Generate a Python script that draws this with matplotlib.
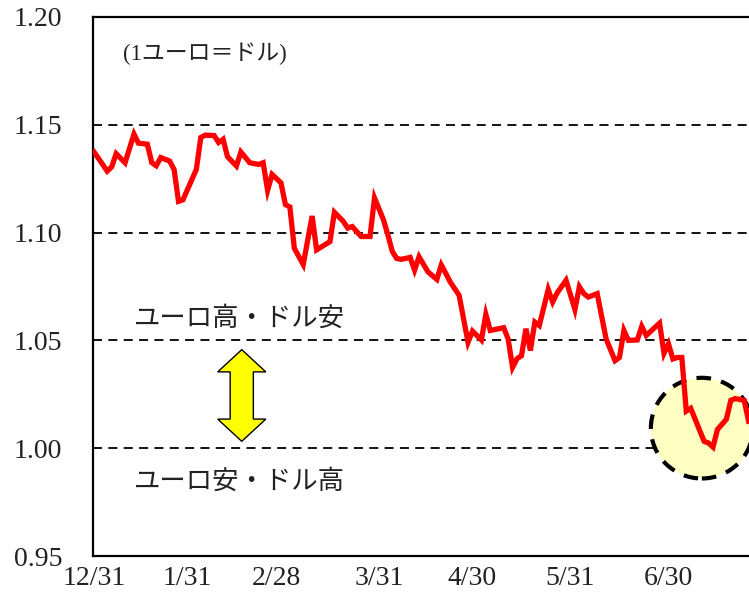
import numpy as np
import matplotlib
matplotlib.use('Agg')
import matplotlib.pyplot as plt
from matplotlib.patches import Ellipse, Polygon

# EUR/USD daily closes (business-day series, 2022)
dates = ['2021-12-31', '2022-01-05', '2022-01-06', '2022-01-07', '2022-01-11',
         '2022-01-13', '2022-01-14', '2022-01-18', '2022-01-19', '2022-01-20',
         '2022-01-21', '2022-01-25', '2022-01-26', '2022-01-27', '2022-01-28',
         '2022-02-02', '2022-02-03', '2022-02-04', '2022-02-08', '2022-02-09',
         '2022-02-10', '2022-02-11', '2022-02-15', '2022-02-16', '2022-02-18',
         '2022-02-22', '2022-02-23', '2022-02-24', '2022-02-25', '2022-03-01',
         '2022-03-02', '2022-03-03', '2022-03-04', '2022-03-08', '2022-03-10',
         '2022-03-11', '2022-03-16', '2022-03-17', '2022-03-21', '2022-03-22',
         '2022-03-23', '2022-03-25', '2022-03-29', '2022-03-30', '2022-04-01',
         '2022-04-04', '2022-04-05', '2022-04-06', '2022-04-07', '2022-04-11',
         '2022-04-12', '2022-04-13', '2022-04-15', '2022-04-19', '2022-04-20',
         '2022-04-21', '2022-04-22', '2022-04-26', '2022-04-28', '2022-04-29',
         '2022-05-03', '2022-05-04', '2022-05-05', '2022-05-10', '2022-05-11',
         '2022-05-12', '2022-05-13', '2022-05-16', '2022-05-17', '2022-05-18',
         '2022-05-19', '2022-05-20', '2022-05-24', '2022-05-25', '2022-05-26',
         '2022-05-30', '2022-06-01', '2022-06-02', '2022-06-03', '2022-06-06',
         '2022-06-08', '2022-06-10', '2022-06-14', '2022-06-15', '2022-06-16',
         '2022-06-17', '2022-06-21', '2022-06-22', '2022-06-23', '2022-06-28',
         '2022-06-29', '2022-06-30', '2022-07-01', '2022-07-04', '2022-07-05',
         '2022-07-06', '2022-07-07', '2022-07-12', '2022-07-13', '2022-07-14',
         '2022-07-15', '2022-07-19', '2022-07-20', '2022-07-21', '2022-07-25',
         '2022-07-26']
rates = [1.1375, 1.1285, 1.1305, 1.1366, 1.1324,
         1.1457, 1.1415, 1.1410, 1.1324, 1.1310,
         1.1348, 1.1332, 1.1293, 1.1145, 1.1152,
         1.1293, 1.1441, 1.1452, 1.1450, 1.1418,
         1.1433, 1.1352, 1.1309, 1.1374, 1.1324,
         1.1316, 1.1324, 1.1196, 1.1270, 1.1231,
         1.1130, 1.1119, 1.0927, 1.0852, 1.1077,
         1.0920, 1.0958, 1.1094, 1.1052, 1.1021,
         1.1028, 1.0982, 1.0982, 1.1161, 1.1060,
         1.0990, 1.0912, 1.0880, 1.0876, 1.0885,
         1.0826, 1.0888, 1.0818, 1.0783, 1.0850,
         1.0811, 1.0771, 1.0709, 1.0491, 1.0543,
         1.0502, 1.0621, 1.0546, 1.0559, 1.0507,
         1.0375, 1.0415, 1.0429, 1.0554, 1.0453,
         1.0585, 1.0569, 1.0736, 1.0678, 1.0720,
         1.0779, 1.0643, 1.0749, 1.0717, 1.0701,
         1.0717, 1.0507, 1.0406, 1.0421, 1.0546,
         1.0500, 1.0502, 1.0565, 1.0523, 1.0580,
         1.0440, 1.0484, 1.0414, 1.0421, 1.0421,
         1.0172, 1.0185, 1.0032, 1.0024, 1.0005,
         1.0087, 1.0134, 1.0222, 1.0230, 1.0222,
         1.0125]

tick_dates = ['2021-12-31', '2022-01-31', '2022-02-28', '2022-03-31',
              '2022-04-30', '2022-05-31', '2022-06-30']
tick_labels = ['12/31', '1/31', '2/28', '3/31', '4/30', '5/31', '6/30']
y_ticks = [0.95, 1.00, 1.05, 1.10, 1.15, 1.20]
ref_levels = [1.00, 1.05, 1.10, 1.15]

start = '2021-12-31'


def bday_pos(d):
    d = np.busday_offset(d, 0, roll='backward')
    return np.busday_count(start, d)


x = np.array([bday_pos(d) for d in dates])
y = np.array(rates)

jp = ['Noto Sans CJK JP']
num_font = 'Liberation Serif'

fig = plt.figure(figsize=(7.49, 5.94), dpi=100)
ax = fig.add_axes([93 / 749, 38 / 594, (762 - 93) / 749, (556 - 17) / 594])

# highlighted zone (parity area)
circ = Ellipse((136.5, 1.0093), 22.9, 0.0467, facecolor='#FFFFC4',
               edgecolor='black', lw=3, linestyle=(0, (3.5, 2.5)), zorder=2)
ax.add_patch(circ)

for lv in ref_levels:
    ax.axhline(lv, color='black', lw=1.3, linestyle=(0, (5, 3.5)), zorder=1)

ax.plot(x, y, color='#FF0000', lw=3.8, zorder=3, solid_joinstyle='miter')

# double arrow between the two labels
cx, top, bot = 33.2, 1.0457, 1.0032
hw, sw, hl = 5.4, 2.6, 0.0103
arrow = Polygon([(cx, top), (cx + hw, top - hl), (cx + sw, top - hl),
                 (cx + sw, bot + hl), (cx + hw, bot + hl), (cx, bot),
                 (cx - hw, bot + hl), (cx - sw, bot + hl), (cx - sw, top - hl),
                 (cx - hw, top - hl)], closed=True, facecolor='#FFFF00',
                edgecolor='black', lw=1.0, zorder=4)
ax.add_patch(arrow)

ax.text(6.5, 1.183, '(1ユーロ＝ドル)', family=[num_font] + jp, fontsize=16.5,
        ha='left', va='center', color='#222222')
ax.text(32.7, 1.0602, 'ユーロ高・ドル安', family=jp, fontsize=19,
        ha='center', va='center', color='#222222')
ax.text(32.7, 0.9846, 'ユーロ安・ドル高', family=jp, fontsize=19,
        ha='center', va='center', color='#222222')

ax.set_xlim(-0.2, 150)
ax.set_ylim(0.95, 1.20)
ax.set_yticks(y_ticks)
ax.set_yticklabels(['%.2f' % v for v in y_ticks])
ax.set_xticks([bday_pos(d) for d in tick_dates])
ax.set_xticklabels(tick_labels)
ax.tick_params(axis='y', length=0, pad=22, labelsize=20)
ax.tick_params(axis='x', length=0, pad=7, labelsize=20)
for lab in ax.get_xticklabels() + ax.get_yticklabels():
    lab.set_fontfamily(num_font)
    lab.set_color('#222222')

for side in ['left', 'top', 'bottom']:
    ax.spines[side].set_linewidth(1.6)
ax.spines['right'].set_visible(False)

plt.savefig('out.png', dpi=100)
